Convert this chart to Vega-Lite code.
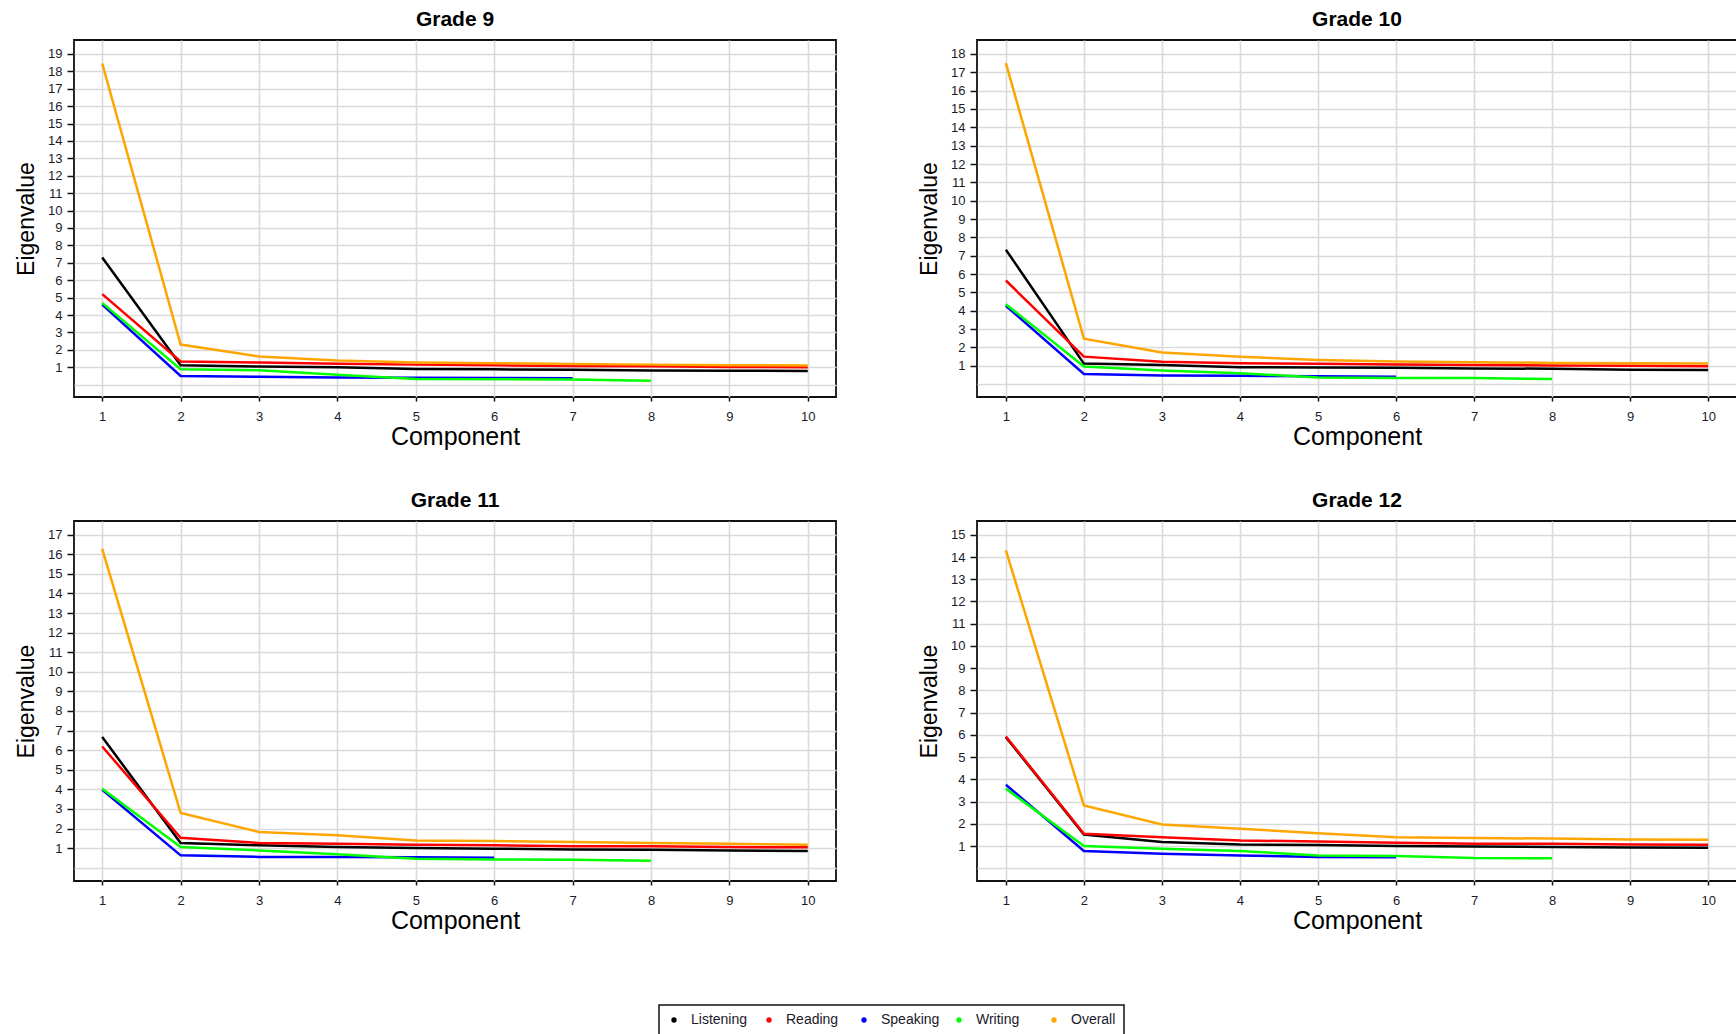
{
  "$schema": "https://vega.github.io/schema/vega-lite/v6.json",
  "background": "white",
  "padding": {"left": 14, "top": 8, "right": 0, "bottom": 0},
  "data": {"values": [
    {"grade": 9, "series": "Listening", "component": 1, "eigenvalue": 7.3},
    {"grade": 9, "series": "Listening", "component": 2, "eigenvalue": 1.12},
    {"grade": 9, "series": "Listening", "component": 3, "eigenvalue": 1.04},
    {"grade": 9, "series": "Listening", "component": 4, "eigenvalue": 1.0},
    {"grade": 9, "series": "Listening", "component": 5, "eigenvalue": 0.9},
    {"grade": 9, "series": "Listening", "component": 6, "eigenvalue": 0.88},
    {"grade": 9, "series": "Listening", "component": 7, "eigenvalue": 0.85},
    {"grade": 9, "series": "Listening", "component": 8, "eigenvalue": 0.81},
    {"grade": 9, "series": "Listening", "component": 9, "eigenvalue": 0.8},
    {"grade": 9, "series": "Listening", "component": 10, "eigenvalue": 0.79},
    {"grade": 9, "series": "Reading", "component": 1, "eigenvalue": 5.2},
    {"grade": 9, "series": "Reading", "component": 2, "eigenvalue": 1.33},
    {"grade": 9, "series": "Reading", "component": 3, "eigenvalue": 1.27},
    {"grade": 9, "series": "Reading", "component": 4, "eigenvalue": 1.2},
    {"grade": 9, "series": "Reading", "component": 5, "eigenvalue": 1.15},
    {"grade": 9, "series": "Reading", "component": 6, "eigenvalue": 1.11},
    {"grade": 9, "series": "Reading", "component": 7, "eigenvalue": 1.07},
    {"grade": 9, "series": "Reading", "component": 8, "eigenvalue": 1.05},
    {"grade": 9, "series": "Reading", "component": 9, "eigenvalue": 1.02},
    {"grade": 9, "series": "Reading", "component": 10, "eigenvalue": 1.0},
    {"grade": 9, "series": "Speaking", "component": 1, "eigenvalue": 4.6},
    {"grade": 9, "series": "Speaking", "component": 2, "eigenvalue": 0.5},
    {"grade": 9, "series": "Speaking", "component": 3, "eigenvalue": 0.45},
    {"grade": 9, "series": "Speaking", "component": 4, "eigenvalue": 0.41},
    {"grade": 9, "series": "Speaking", "component": 5, "eigenvalue": 0.39},
    {"grade": 9, "series": "Speaking", "component": 6, "eigenvalue": 0.38},
    {"grade": 9, "series": "Speaking", "component": 7, "eigenvalue": 0.37},
    {"grade": 9, "series": "Writing", "component": 1, "eigenvalue": 4.7},
    {"grade": 9, "series": "Writing", "component": 2, "eigenvalue": 0.88},
    {"grade": 9, "series": "Writing", "component": 3, "eigenvalue": 0.83},
    {"grade": 9, "series": "Writing", "component": 4, "eigenvalue": 0.57},
    {"grade": 9, "series": "Writing", "component": 5, "eigenvalue": 0.33},
    {"grade": 9, "series": "Writing", "component": 6, "eigenvalue": 0.31},
    {"grade": 9, "series": "Writing", "component": 7, "eigenvalue": 0.29},
    {"grade": 9, "series": "Writing", "component": 8, "eigenvalue": 0.22},
    {"grade": 9, "series": "Overall", "component": 1, "eigenvalue": 18.45},
    {"grade": 9, "series": "Overall", "component": 2, "eigenvalue": 2.3},
    {"grade": 9, "series": "Overall", "component": 3, "eigenvalue": 1.62},
    {"grade": 9, "series": "Overall", "component": 4, "eigenvalue": 1.38},
    {"grade": 9, "series": "Overall", "component": 5, "eigenvalue": 1.27},
    {"grade": 9, "series": "Overall", "component": 6, "eigenvalue": 1.23},
    {"grade": 9, "series": "Overall", "component": 7, "eigenvalue": 1.19},
    {"grade": 9, "series": "Overall", "component": 8, "eigenvalue": 1.15},
    {"grade": 9, "series": "Overall", "component": 9, "eigenvalue": 1.12},
    {"grade": 9, "series": "Overall", "component": 10, "eigenvalue": 1.1},

    {"grade": 10, "series": "Listening", "component": 1, "eigenvalue": 7.33},
    {"grade": 10, "series": "Listening", "component": 2, "eigenvalue": 1.12},
    {"grade": 10, "series": "Listening", "component": 3, "eigenvalue": 1.05},
    {"grade": 10, "series": "Listening", "component": 4, "eigenvalue": 0.92},
    {"grade": 10, "series": "Listening", "component": 5, "eigenvalue": 0.91},
    {"grade": 10, "series": "Listening", "component": 6, "eigenvalue": 0.9},
    {"grade": 10, "series": "Listening", "component": 7, "eigenvalue": 0.86},
    {"grade": 10, "series": "Listening", "component": 8, "eigenvalue": 0.84},
    {"grade": 10, "series": "Listening", "component": 9, "eigenvalue": 0.79},
    {"grade": 10, "series": "Listening", "component": 10, "eigenvalue": 0.77},
    {"grade": 10, "series": "Reading", "component": 1, "eigenvalue": 5.65},
    {"grade": 10, "series": "Reading", "component": 2, "eigenvalue": 1.5},
    {"grade": 10, "series": "Reading", "component": 3, "eigenvalue": 1.22},
    {"grade": 10, "series": "Reading", "component": 4, "eigenvalue": 1.14},
    {"grade": 10, "series": "Reading", "component": 5, "eigenvalue": 1.11},
    {"grade": 10, "series": "Reading", "component": 6, "eigenvalue": 1.07},
    {"grade": 10, "series": "Reading", "component": 7, "eigenvalue": 1.04},
    {"grade": 10, "series": "Reading", "component": 8, "eigenvalue": 1.02},
    {"grade": 10, "series": "Reading", "component": 9, "eigenvalue": 1.0},
    {"grade": 10, "series": "Reading", "component": 10, "eigenvalue": 0.98},
    {"grade": 10, "series": "Speaking", "component": 1, "eigenvalue": 4.27},
    {"grade": 10, "series": "Speaking", "component": 2, "eigenvalue": 0.56},
    {"grade": 10, "series": "Speaking", "component": 3, "eigenvalue": 0.47},
    {"grade": 10, "series": "Speaking", "component": 4, "eigenvalue": 0.46},
    {"grade": 10, "series": "Speaking", "component": 5, "eigenvalue": 0.43},
    {"grade": 10, "series": "Speaking", "component": 6, "eigenvalue": 0.41},
    {"grade": 10, "series": "Writing", "component": 1, "eigenvalue": 4.36},
    {"grade": 10, "series": "Writing", "component": 2, "eigenvalue": 0.96},
    {"grade": 10, "series": "Writing", "component": 3, "eigenvalue": 0.74},
    {"grade": 10, "series": "Writing", "component": 4, "eigenvalue": 0.6},
    {"grade": 10, "series": "Writing", "component": 5, "eigenvalue": 0.36},
    {"grade": 10, "series": "Writing", "component": 6, "eigenvalue": 0.34},
    {"grade": 10, "series": "Writing", "component": 7, "eigenvalue": 0.33},
    {"grade": 10, "series": "Writing", "component": 8, "eigenvalue": 0.28},
    {"grade": 10, "series": "Overall", "component": 1, "eigenvalue": 17.5},
    {"grade": 10, "series": "Overall", "component": 2, "eigenvalue": 2.48},
    {"grade": 10, "series": "Overall", "component": 3, "eigenvalue": 1.72},
    {"grade": 10, "series": "Overall", "component": 4, "eigenvalue": 1.5},
    {"grade": 10, "series": "Overall", "component": 5, "eigenvalue": 1.32},
    {"grade": 10, "series": "Overall", "component": 6, "eigenvalue": 1.23},
    {"grade": 10, "series": "Overall", "component": 7, "eigenvalue": 1.2},
    {"grade": 10, "series": "Overall", "component": 8, "eigenvalue": 1.16},
    {"grade": 10, "series": "Overall", "component": 9, "eigenvalue": 1.14},
    {"grade": 10, "series": "Overall", "component": 10, "eigenvalue": 1.13},

    {"grade": 11, "series": "Listening", "component": 1, "eigenvalue": 6.67},
    {"grade": 11, "series": "Listening", "component": 2, "eigenvalue": 1.26},
    {"grade": 11, "series": "Listening", "component": 3, "eigenvalue": 1.14},
    {"grade": 11, "series": "Listening", "component": 4, "eigenvalue": 1.05},
    {"grade": 11, "series": "Listening", "component": 5, "eigenvalue": 1.0},
    {"grade": 11, "series": "Listening", "component": 6, "eigenvalue": 0.97},
    {"grade": 11, "series": "Listening", "component": 7, "eigenvalue": 0.93},
    {"grade": 11, "series": "Listening", "component": 8, "eigenvalue": 0.91},
    {"grade": 11, "series": "Listening", "component": 9, "eigenvalue": 0.88},
    {"grade": 11, "series": "Listening", "component": 10, "eigenvalue": 0.85},
    {"grade": 11, "series": "Reading", "component": 1, "eigenvalue": 6.19},
    {"grade": 11, "series": "Reading", "component": 2, "eigenvalue": 1.53},
    {"grade": 11, "series": "Reading", "component": 3, "eigenvalue": 1.26},
    {"grade": 11, "series": "Reading", "component": 4, "eigenvalue": 1.22},
    {"grade": 11, "series": "Reading", "component": 5, "eigenvalue": 1.17},
    {"grade": 11, "series": "Reading", "component": 6, "eigenvalue": 1.14},
    {"grade": 11, "series": "Reading", "component": 7, "eigenvalue": 1.1},
    {"grade": 11, "series": "Reading", "component": 8, "eigenvalue": 1.09},
    {"grade": 11, "series": "Reading", "component": 9, "eigenvalue": 1.05},
    {"grade": 11, "series": "Reading", "component": 10, "eigenvalue": 1.04},
    {"grade": 11, "series": "Speaking", "component": 1, "eigenvalue": 3.98},
    {"grade": 11, "series": "Speaking", "component": 2, "eigenvalue": 0.63},
    {"grade": 11, "series": "Speaking", "component": 3, "eigenvalue": 0.55},
    {"grade": 11, "series": "Speaking", "component": 4, "eigenvalue": 0.54},
    {"grade": 11, "series": "Speaking", "component": 5, "eigenvalue": 0.53},
    {"grade": 11, "series": "Speaking", "component": 6, "eigenvalue": 0.51},
    {"grade": 11, "series": "Writing", "component": 1, "eigenvalue": 4.03},
    {"grade": 11, "series": "Writing", "component": 2, "eigenvalue": 1.05},
    {"grade": 11, "series": "Writing", "component": 3, "eigenvalue": 0.88},
    {"grade": 11, "series": "Writing", "component": 4, "eigenvalue": 0.68},
    {"grade": 11, "series": "Writing", "component": 5, "eigenvalue": 0.46},
    {"grade": 11, "series": "Writing", "component": 6, "eigenvalue": 0.42},
    {"grade": 11, "series": "Writing", "component": 7, "eigenvalue": 0.4},
    {"grade": 11, "series": "Writing", "component": 8, "eigenvalue": 0.35},
    {"grade": 11, "series": "Overall", "component": 1, "eigenvalue": 16.28},
    {"grade": 11, "series": "Overall", "component": 2, "eigenvalue": 2.79},
    {"grade": 11, "series": "Overall", "component": 3, "eigenvalue": 1.82},
    {"grade": 11, "series": "Overall", "component": 4, "eigenvalue": 1.65},
    {"grade": 11, "series": "Overall", "component": 5, "eigenvalue": 1.39},
    {"grade": 11, "series": "Overall", "component": 6, "eigenvalue": 1.36},
    {"grade": 11, "series": "Overall", "component": 7, "eigenvalue": 1.31},
    {"grade": 11, "series": "Overall", "component": 8, "eigenvalue": 1.26},
    {"grade": 11, "series": "Overall", "component": 9, "eigenvalue": 1.22},
    {"grade": 11, "series": "Overall", "component": 10, "eigenvalue": 1.17},

    {"grade": 12, "series": "Listening", "component": 1, "eigenvalue": 5.9},
    {"grade": 12, "series": "Listening", "component": 2, "eigenvalue": 1.52},
    {"grade": 12, "series": "Listening", "component": 3, "eigenvalue": 1.18},
    {"grade": 12, "series": "Listening", "component": 4, "eigenvalue": 1.07},
    {"grade": 12, "series": "Listening", "component": 5, "eigenvalue": 1.05},
    {"grade": 12, "series": "Listening", "component": 6, "eigenvalue": 1.0},
    {"grade": 12, "series": "Listening", "component": 7, "eigenvalue": 0.98},
    {"grade": 12, "series": "Listening", "component": 8, "eigenvalue": 0.96},
    {"grade": 12, "series": "Listening", "component": 9, "eigenvalue": 0.94},
    {"grade": 12, "series": "Listening", "component": 10, "eigenvalue": 0.93},
    {"grade": 12, "series": "Reading", "component": 1, "eigenvalue": 5.93},
    {"grade": 12, "series": "Reading", "component": 2, "eigenvalue": 1.55},
    {"grade": 12, "series": "Reading", "component": 3, "eigenvalue": 1.4},
    {"grade": 12, "series": "Reading", "component": 4, "eigenvalue": 1.25},
    {"grade": 12, "series": "Reading", "component": 5, "eigenvalue": 1.21},
    {"grade": 12, "series": "Reading", "component": 6, "eigenvalue": 1.15},
    {"grade": 12, "series": "Reading", "component": 7, "eigenvalue": 1.1},
    {"grade": 12, "series": "Reading", "component": 8, "eigenvalue": 1.1},
    {"grade": 12, "series": "Reading", "component": 9, "eigenvalue": 1.07},
    {"grade": 12, "series": "Reading", "component": 10, "eigenvalue": 1.06},
    {"grade": 12, "series": "Speaking", "component": 1, "eigenvalue": 3.76},
    {"grade": 12, "series": "Speaking", "component": 2, "eigenvalue": 0.78},
    {"grade": 12, "series": "Speaking", "component": 3, "eigenvalue": 0.66},
    {"grade": 12, "series": "Speaking", "component": 4, "eigenvalue": 0.58},
    {"grade": 12, "series": "Speaking", "component": 5, "eigenvalue": 0.51},
    {"grade": 12, "series": "Speaking", "component": 6, "eigenvalue": 0.5},
    {"grade": 12, "series": "Writing", "component": 1, "eigenvalue": 3.58},
    {"grade": 12, "series": "Writing", "component": 2, "eigenvalue": 1.0},
    {"grade": 12, "series": "Writing", "component": 3, "eigenvalue": 0.88},
    {"grade": 12, "series": "Writing", "component": 4, "eigenvalue": 0.78},
    {"grade": 12, "series": "Writing", "component": 5, "eigenvalue": 0.58},
    {"grade": 12, "series": "Writing", "component": 6, "eigenvalue": 0.55},
    {"grade": 12, "series": "Writing", "component": 7, "eigenvalue": 0.46},
    {"grade": 12, "series": "Writing", "component": 8, "eigenvalue": 0.45},
    {"grade": 12, "series": "Overall", "component": 1, "eigenvalue": 14.3},
    {"grade": 12, "series": "Overall", "component": 2, "eigenvalue": 2.83},
    {"grade": 12, "series": "Overall", "component": 3, "eigenvalue": 1.97},
    {"grade": 12, "series": "Overall", "component": 4, "eigenvalue": 1.78},
    {"grade": 12, "series": "Overall", "component": 5, "eigenvalue": 1.58},
    {"grade": 12, "series": "Overall", "component": 6, "eigenvalue": 1.4},
    {"grade": 12, "series": "Overall", "component": 7, "eigenvalue": 1.36},
    {"grade": 12, "series": "Overall", "component": 8, "eigenvalue": 1.34},
    {"grade": 12, "series": "Overall", "component": 9, "eigenvalue": 1.3},
    {"grade": 12, "series": "Overall", "component": 10, "eigenvalue": 1.28}
  ]},
  "columns": 2,
  "bounds": "flush",
  "spacing": {"row": 124, "column": 141},
  "concat": [
    {
      "title": "Grade 9",
      "width": 762, "height": 357,
      "transform": [{"filter": "datum.grade == 9"}],
      "mark": {"type": "line", "strokeWidth": 2.5, "clip": true},
      "encoding": {
        "x": {"field": "component", "type": "quantitative", "title": "Component",
              "scale": {"domain": [0.64, 10.36], "nice": false, "zero": false},
              "axis": {"values": [1,2,3,4,5,6,7,8,9,10]}},
        "y": {"field": "eigenvalue", "type": "quantitative", "title": "Eigenvalue",
              "scale": {"domain": [-0.71, 19.8], "nice": false, "zero": false},
              "axis": {"values": [0,1,2,3,4,5,6,7,8,9,10,11,12,13,14,15,16,17,18,19],
                       "labelExpr": "datum.value == 0 ? '' : datum.label",
                       "tickOpacity": {"condition": {"test": "datum.value == 0", "value": 0}, "value": 1}}},
        "color": {"field": "series", "type": "nominal",
                  "scale": {"domain": ["Listening", "Reading", "Speaking", "Writing", "Overall"],
                            "range": ["#000000", "#FF0000", "#0000FF", "#00FF00", "#FFA500"]}}
      }
    },
    {
      "title": "Grade 10",
      "width": 760, "height": 357,
      "transform": [{"filter": "datum.grade == 10"}],
      "mark": {"type": "line", "strokeWidth": 2.5, "clip": true},
      "encoding": {
        "x": {"field": "component", "type": "quantitative", "title": "Component",
              "scale": {"domain": [0.63, 10.37], "nice": false, "zero": false},
              "axis": {"values": [1,2,3,4,5,6,7,8,9,10]}},
        "y": {"field": "eigenvalue", "type": "quantitative", "title": "Eigenvalue",
              "scale": {"domain": [-0.7, 18.76], "nice": false, "zero": false},
              "axis": {"values": [0,1,2,3,4,5,6,7,8,9,10,11,12,13,14,15,16,17,18],
                       "labelExpr": "datum.value == 0 ? '' : datum.label",
                       "tickOpacity": {"condition": {"test": "datum.value == 0", "value": 0}, "value": 1}}},
        "color": {"field": "series", "type": "nominal",
                  "scale": {"domain": ["Listening", "Reading", "Speaking", "Writing", "Overall"],
                            "range": ["#000000", "#FF0000", "#0000FF", "#00FF00", "#FFA500"]}}
      }
    },
    {
      "title": "Grade 11",
      "width": 762, "height": 360,
      "transform": [{"filter": "datum.grade == 11"}],
      "mark": {"type": "line", "strokeWidth": 2.5, "clip": true},
      "encoding": {
        "x": {"field": "component", "type": "quantitative", "title": "Component",
              "scale": {"domain": [0.64, 10.36], "nice": false, "zero": false},
              "axis": {"values": [1,2,3,4,5,6,7,8,9,10]}},
        "y": {"field": "eigenvalue", "type": "quantitative", "title": "Eigenvalue",
              "scale": {"domain": [-0.68, 17.7], "nice": false, "zero": false},
              "axis": {"values": [0,1,2,3,4,5,6,7,8,9,10,11,12,13,14,15,16,17],
                       "labelExpr": "datum.value == 0 ? '' : datum.label",
                       "tickOpacity": {"condition": {"test": "datum.value == 0", "value": 0}, "value": 1}}},
        "color": {"field": "series", "type": "nominal",
                  "scale": {"domain": ["Listening", "Reading", "Speaking", "Writing", "Overall"],
                            "range": ["#000000", "#FF0000", "#0000FF", "#00FF00", "#FFA500"]}}
      }
    },
    {
      "title": "Grade 12",
      "width": 760, "height": 360,
      "transform": [{"filter": "datum.grade == 12"}],
      "mark": {"type": "line", "strokeWidth": 2.5, "clip": true},
      "encoding": {
        "x": {"field": "component", "type": "quantitative", "title": "Component",
              "scale": {"domain": [0.63, 10.37], "nice": false, "zero": false},
              "axis": {"values": [1,2,3,4,5,6,7,8,9,10]}},
        "y": {"field": "eigenvalue", "type": "quantitative", "title": "Eigenvalue",
              "scale": {"domain": [-0.57, 15.62], "nice": false, "zero": false},
              "axis": {"values": [0,1,2,3,4,5,6,7,8,9,10,11,12,13,14,15],
                       "labelExpr": "datum.value == 0 ? '' : datum.label",
                       "tickOpacity": {"condition": {"test": "datum.value == 0", "value": 0}, "value": 1}}},
        "color": {"field": "series", "type": "nominal",
                  "scale": {"domain": ["Listening", "Reading", "Speaking", "Writing", "Overall"],
                            "range": ["#000000", "#FF0000", "#0000FF", "#00FF00", "#FFA500"]}}
      }
    }
  ],
  "resolve": {"scale": {"x": "independent", "y": "independent", "color": "shared"}},
  "config": {
    "font": "Liberation Sans",
    "view": {"stroke": "#111111", "strokeWidth": 1.8},
    "axis": {
      "domain": false, "grid": true, "gridColor": "#DADADA", "gridWidth": 1.6,
      "tickColor": "#111111", "tickWidth": 1.5,
      "labelFontSize": 13, "labelColor": "#1a1a2a",
      "titleFontWeight": "normal", "titleColor": "#000000"
    },
    "axisX": {"tickSize": 4, "labelPadding": 9, "titlePadding": 1, "titleFontSize": 25, "labelAngle": 0},
    "axisY": {"tickSize": 7, "labelPadding": 5, "titlePadding": 9, "titleFontSize": 23},
    "title": {"fontSize": 21, "fontWeight": "bold", "offset": 10, "anchor": "middle", "color": "#000000"},
    "legend": {
      "orient": "none", "legendX": 585, "legendY": 965,
      "direction": "horizontal", "title": null,
      "symbolType": "circle", "symbolSize": 8, "symbolStrokeWidth": 2.5,
      "labelFontSize": 14, "labelColor": "#1a1a2a", "labelOffset": 10,
      "strokeColor": "#111111", "strokeWidth": 1.5, "fillColor": "white",
      "padding": 8, "gridAlign": "all", "columnPadding": 12
    }
  }
}
